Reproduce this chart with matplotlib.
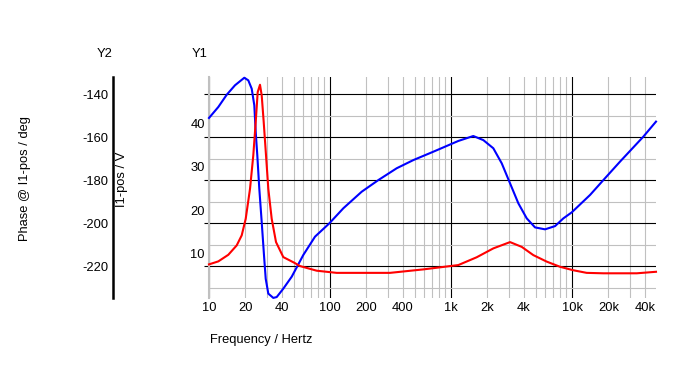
import matplotlib
matplotlib.use("Agg")
import matplotlib.pyplot as plt
from matplotlib.ticker import FixedLocator, FixedFormatter

plt.rcParams['font.family'] = ['Liberation Sans', 'DejaVu Sans']
plt.rcParams['axes.unicode_minus'] = False
FS = 9.3

# ---- data ----
phase_freq = [10, 11.94, 14.01, 16.40, 19.57, 21.12, 22.54, 23.68, 24.32, 25.07,
              26.04, 27.26, 28.48, 29.42, 30.91, 34.00, 36.27, 41.11, 48.3, 60.2,
              75.2, 98.8, 128.9, 182.8, 250.8, 355.6, 488, 714, 1149, 1528,
              1849, 2237, 2625, 3075, 3601, 4224, 4946, 5983, 7240, 8480,
              9953, 14100, 18150, 24940, 38840, 49430]
phase_deg = [-151.0, -145.9, -140.2, -135.8, -132.3, -133.5, -137.4, -145.1, -157.5, -168.4,
             -183.9, -199.4, -214.9, -225.8, -232.7, -234.7, -234.3, -230.4, -224.8, -214.7,
             -206.2, -200.0, -193.0, -185.3, -179.9, -174.4, -170.6, -166.7, -161.7, -159.4,
             -161.3, -165.1, -172.1, -181.4, -190.7, -197.7, -201.9, -202.8, -201.3, -197.7,
             -194.9, -186.8, -179.9, -171.3, -159.7, -152.7]

mag_freq = [10, 11.94, 14.44, 16.94, 18.63, 20.11, 21.83, 23.23, 24.32, 25.26,
            26.39, 27.26, 28.32, 29.59, 30.91, 32.97, 35.79, 41.11, 50.7, 56.5,
            77.6, 113.5, 313, 590, 1149, 1630, 2237, 3075, 3840, 4786,
            6174, 7965, 10260, 13220, 18150, 34280, 49430]
mag_v = [7.46, 8.15, 9.67, 11.84, 14.15, 17.98, 24.91, 32.62, 40.3, 47.22,
         48.91, 46.46, 40.3, 32.62, 24.91, 17.98, 12.61, 9.14, 7.83, 7.07,
         6.0, 5.5, 5.5, 6.3, 7.3, 9.1, 11.15, 12.6, 11.5, 9.6,
         8.1, 6.9, 6.1, 5.5, 5.4, 5.4, 5.75]

x_major = [10, 100, 1000, 10000]
x_major_labels = ['10', '100', '1k', '10k']
x_minor = [m * d for d in [10, 100, 1000, 10000] for m in range(2, 10) if m * d < 49430]
x_minor_named = {20: '20', 40: '40', 200: '200', 400: '400', 2000: '2k', 4000: '4k',
                 20000: '20k', 40000: '40k'}

y2_major = [-220, -200, -180, -160, -140]
y2_minor = [-230, -210, -190, -170, -150]
y1_ticks = [10, 20, 30, 40]

# ---- figure ----
W, H = 696, 374
fig = plt.figure(figsize=(W / 100, H / 100), dpi=100)
L, R, T, B = 209, 656, 77, 298
pos = [L / W, 1 - B / H, (R - L) / W, (B - T) / H]

ax = fig.add_axes(pos)
ax.set_xscale('log')
ax1 = ax.twinx()
ax2 = ax.twinx()

ax.set_xlim(10, 49430)
ax.set_ylim(-234.74, -131.95)
ax.xaxis.set_major_locator(FixedLocator(x_major))
ax.xaxis.set_major_formatter(FixedFormatter(x_major_labels))
ax.xaxis.set_minor_locator(FixedLocator(x_minor))
ax.xaxis.set_minor_formatter(FixedFormatter([x_minor_named.get(v, '') for v in x_minor]))
ax.set_yticks(y2_major)
ax.set_yticks(y2_minor, minor=True)
ax.tick_params(axis='y', which='major', length=3.6, width=0.8, color='black',
               labelleft=False)
ax.tick_params(axis='y', which='minor', length=0)
ax.tick_params(axis='x', which='both', length=0, pad=3, labelsize=FS)
ax.grid(True, which='minor', color='#C0C0C0', lw=0.8)
ax.grid(True, which='major', color='black', lw=0.8)
ax.set_axisbelow(True)
for s in ['top', 'right', 'bottom']:
    ax.spines[s].set_visible(False)
ax.spines['left'].set_color('#C0C0C0')
ax.spines['left'].set_linewidth(1.5)
ax.plot(phase_freq, phase_deg, color='#0000FF', lw=1.5, zorder=3, clip_on=False)

# Y1 axis (red curve)
ax1.set_ylim(-0.3, 50.7)
ax1.yaxis.tick_left()
ax1.set_yticks(y1_ticks)
ax1.tick_params(axis='y', length=0, pad=3, labelsize=FS)
for s in ax1.spines.values():
    s.set_visible(False)
ax1.plot(mag_freq, mag_v, color='#FF0000', lw=1.5, zorder=3, clip_on=False)

# Y2 axis display (outer black spine)
ax2.set_ylim(-234.74, -131.95)
ax2.yaxis.tick_left()
ax2.set_yticks(y2_major)
ax2.tick_params(axis='y', length=0, pad=3, labelsize=FS)
for s in ['top', 'right', 'bottom']:
    ax2.spines[s].set_visible(False)
ax2.spines['left'].set_position(('outward', 96 * 0.72))
ax2.spines['left'].set_color('black')
ax2.spines['left'].set_linewidth(1.8)
ax2.patch.set_visible(False)

fig.text(105 / W, 1 - 54 / H, 'Y2', ha='center', va='center', fontsize=FS)
fig.text(200 / W, 1 - 54 / H, 'Y1', ha='center', va='center', fontsize=FS)
fig.text(25 / W, 1 - 179 / H, 'Phase @ I1-pos / deg', rotation=90, ha='center',
         va='center', fontsize=FS)
fig.text(122 / W, 1 - 179 / H, 'I1-pos / V', rotation=90, ha='center',
         va='center', fontsize=FS)
fig.text(210 / W, 1 - 340 / H, 'Frequency / Hertz', ha='left', va='center',
         fontsize=FS)

fig.savefig('out.png', dpi=100)
